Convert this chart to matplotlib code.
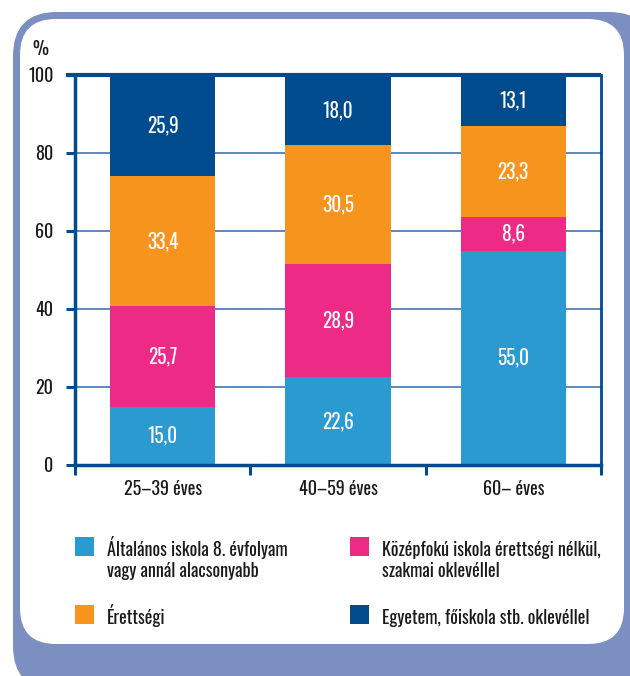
import matplotlib.pyplot as plt
from matplotlib.patches import FancyBboxPatch, Rectangle

plt.rcParams['font.family'] = ['Oswald', 'Roboto Condensed', 'DejaVu Sans']
plt.rcParams['font.weight'] = 300

groups = ["25–39 éves", "40–59 éves", "60– éves"]
series = [
    "Általános iskola 8. évfolyam\nvagy annál alacsonyabb",
    "Középfokú iskola érettségi nélkül,\nszakmai oklevéllel",
    "Érettségi",
    "Egyetem, főiskola stb. oklevéllel",
]
altalanos = [15.0, 22.6, 55.0]
kozepfoku = [25.7, 28.9, 8.6]
erettsegi = [33.4, 30.5, 23.3]
egyetem = [25.9, 18.0, 13.1]
yticks = [0, 20, 40, 60, 80, 100]

c_light = "#2a9ad0"
c_pink = "#ee2a87"
c_orange = "#f7941e"
c_dark = "#004b8d"
c_frame = "#7b8fc0"
c_grid = "#4f80b8"
c_text = "#1a1a1a"

W, H = 630, 676
fig = plt.figure(figsize=(W / 100, H / 100), dpi=100)

# background card, drawn in pixel coords
bg = fig.add_axes([0, 0, 1, 1], zorder=0)
bg.set_xlim(0, W)
bg.set_ylim(H, 0)
bg.axis("off")
bg.add_patch(FancyBboxPatch((13, 12), 640, 678, boxstyle="round,pad=0,rounding_size=44",
                            fc=c_frame, ec="none"))
bg.add_patch(FancyBboxPatch((20, 19), 604, 625, boxstyle="round,pad=0,rounding_size=36",
                            fc="white", ec="none"))

# legend, 2 x 2 (one text per line so the first line sits level with the square)
colors = [c_light, c_pink, c_orange, c_dark]
leg_x = [75, 350, 75, 350]
leg_y = [537, 537, 605, 605]
for label, col, x, y in zip(series, colors, leg_x, leg_y):
    bg.add_patch(Rectangle((x, y), 19, 19, fc=col, ec="none"))
    for k, line in enumerate(label.split("\n")):
        bg.text(x + 32, y + 19 + k * 21, line, fontsize=13, va="baseline",
                ha="left", color=c_text)

# main chart
ax = fig.add_axes([75 / W, 1 - 465 / H, (601 - 75) / W, (465 - 75) / H], zorder=2)
ax.set_facecolor("none")
x = range(len(groups))
bottom = [0, 0, 0]
stack = [altalanos, kozepfoku, erettsegi, egyetem]
for vals, col in zip(stack, colors):
    ax.bar(x, vals, width=0.6, bottom=bottom, color=col, zorder=2)
    for i, v in enumerate(vals):
        ax.text(i, bottom[i] + v / 2, f"{v:.1f}".replace(".", ","),
                ha="center", va="center", color="white", fontsize=14, zorder=3)
    bottom = [b + v for b, v in zip(bottom, vals)]

ax.set_xlim(-0.5, 2.5)
ax.set_ylim(0, 100)
ax.set_yticks(yticks)
ax.set_yticklabels([str(t) for t in yticks], fontsize=13, color=c_text)
for t in yticks[1:-1]:
    ax.axhline(t, color=c_grid, lw=1.3, zorder=1)
ax.plot([-0.5 - 9 / 175.3, 2.5], [100, 100], color=c_dark, lw=3, zorder=4,
        clip_on=False, solid_capstyle="butt")

ax.set_xticks([-0.5, 0.5, 1.5, 2.5])
ax.set_xticklabels([])
ax.set_xticks(list(x), minor=True)
ax.set_xticklabels(groups, minor=True, fontsize=13, color=c_text)
ax.tick_params(axis="x", which="major", direction="out", length=7, width=2.2, color=c_dark)
ax.tick_params(axis="x", which="minor", length=0, pad=11)
ax.tick_params(axis="y", direction="out", length=6.5, width=2.2, color=c_dark, pad=9)

for side in ["left", "bottom"]:
    ax.spines[side].set_color(c_dark)
    ax.spines[side].set_linewidth(2.5)
ax.spines["right"].set_color(c_dark)
ax.spines["right"].set_linewidth(2)
ax.spines["top"].set_visible(False)

fig.text(32 / W, 1 - 49 / H, "%", fontsize=13, ha="left", va="center", color=c_text)

fig.savefig("out.png", dpi=100)
